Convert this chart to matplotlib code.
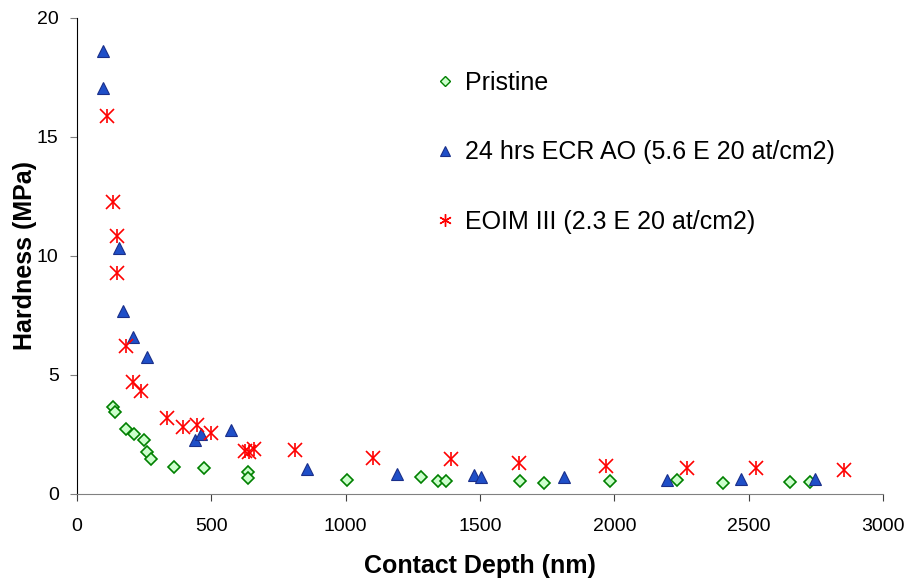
import numpy as np
import matplotlib
matplotlib.use("Agg")
import matplotlib.pyplot as plt
from matplotlib.lines import Line2D

plt.rcParams['font.family'] = ['Liberation Sans', 'DejaVu Sans']

# Pristine
pristine_x = [136, 142, 185, 212, 252, 263, 276, 361, 474, 636, 636, 1006, 1280,
              1343, 1374, 1649, 1737, 1983, 2233, 2404, 2652, 2727]
pristine_y = [3.67, 3.43, 2.72, 2.51, 2.27, 1.75, 1.48, 1.13, 1.08, 0.91, 0.69, 0.59,
              0.70, 0.55, 0.55, 0.56, 0.45, 0.56, 0.57, 0.48, 0.50, 0.49]

# 24 hrs ECR AO
ecr_x = [98, 98, 157, 173, 208, 263, 440, 464, 573, 857, 1190, 1476, 1505, 1812,
         2194, 2470, 2746]
ecr_y = [18.63, 17.06, 10.35, 7.68, 6.58, 5.74, 2.27, 2.51, 2.69, 1.05, 0.84, 0.81,
         0.71, 0.73, 0.59, 0.64, 0.62]

# EOIM III
eoim_x = [111, 136, 148, 151, 185, 209, 240, 336, 395, 448, 500, 627, 640, 660, 811,
          1103, 1393, 1644, 1967, 2271, 2526, 2853]
eoim_y = [15.88, 12.28, 10.85, 9.27, 6.22, 4.72, 4.34, 3.18, 2.83, 2.90, 2.58, 1.82,
          1.78, 1.89, 1.85, 1.53, 1.46, 1.29, 1.19, 1.08, 1.08, 1.01]

labels = ["Pristine", "24 hrs ECR AO (5.6 E 20 at/cm2)", "EOIM III (2.3 E 20 at/cm2)"]

fig = plt.figure(figsize=(9.1, 5.8), dpi=100)
ax = fig.add_axes([0.0843, 0.1483, 0.8864, 0.8207])

ax.plot(pristine_x, pristine_y, linestyle='none', marker='D', markersize=6.3,
        markerfacecolor='#ccffcc', markeredgecolor='#008000', markeredgewidth=1.2)
ax.plot(ecr_x, ecr_y, linestyle='none', marker='^', markersize=8.5,
        markerfacecolor='#1f4fc8', markeredgecolor='#1a2f8a', markeredgewidth=0.8)
ax.plot(eoim_x, eoim_y, linestyle='none', marker='x', markersize=9.5,
        color='#ff0000', markeredgewidth=1.2)
ax.plot(eoim_x, eoim_y, linestyle='none', marker='|', markersize=10.5,
        color='#ff0000', markeredgewidth=1.2)

ax.set_xlim(0, 3000)
ax.set_ylim(0, 20)
ax.set_xticks(np.arange(0, 3001, 500))
ax.set_yticks(np.arange(0, 21, 5))

ax.spines['top'].set_visible(False)
ax.spines['right'].set_visible(False)
ax.spines['left'].set_color('black')
ax.spines['bottom'].set_color('#808080')
ax.tick_params(axis='x', direction='out', length=5, color='#404040', labelsize=14, pad=12)
ax.tick_params(axis='y', direction='out', length=5, color='#808080', labelsize=14, pad=8)

ax.set_xlabel("Contact Depth (nm)", fontsize=18, fontweight='bold', labelpad=14)
ax.set_ylabel("Hardness (MPa)", fontsize=18, fontweight='bold', labelpad=0)

handles = [
    Line2D([], [], linestyle='none', marker='D', markersize=5, markerfacecolor='#ccffcc',
           markeredgecolor='#008000', markeredgewidth=1.0),
    Line2D([], [], linestyle='none', marker='^', markersize=7.5, markerfacecolor='#1f4fc8',
           markeredgecolor='#1a2f8a', markeredgewidth=0.8),
    Line2D([], [], linestyle='none', marker=(6, 2, 0), markersize=9, color='#ff0000',
           markeredgewidth=1.0),
]
ax.legend(handles, labels, loc='upper left', bbox_to_anchor=(0.4165, 0.936), frameon=False,
          fontsize=18, labelspacing=1.82, handlelength=0.8, handletextpad=0.4)

fig.savefig("out.png", dpi=100)
